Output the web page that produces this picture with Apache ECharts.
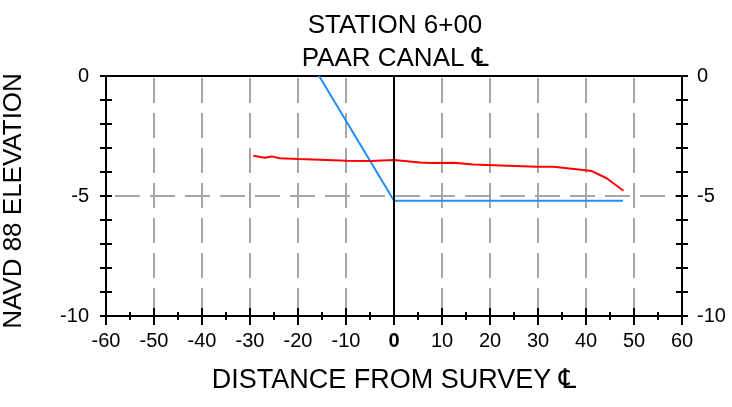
<!DOCTYPE html>
<html>
<head>
<meta charset="utf-8">
<script src="https://cdn.jsdelivr.net/npm/echarts@6/dist/echarts.min.js"></script>
<style>
html,body{margin:0;padding:0;background:#fff;}
#chart{width:732px;height:407px;}
</style>
</head>
<body>
<div id="chart"></div>
<script>
// ---- data ----
const titleLines = ['STATION 6+00', 'PAAR CANAL \u2104'];
const xAxisName = 'DISTANCE FROM SURVEY \u2104';
const yAxisName = 'NAVD 88 ELEVATION';
const xMin = -60, xMax = 60, xStep = 10;
const yMin = -10, yMax = 0, yStep = 5;

// existing ground (red)
const groundX = [-29.3, -26.9, -25.5, -23.8, -19.9, -15.4, -9.9, -5, 0, 5.4, 7.5, 12.4, 16.5, 29.7, 33.2, 39.4, 41.2, 44.3, 47.8];
const groundY = [-3.32, -3.41, -3.35, -3.43, -3.46, -3.49, -3.53, -3.54, -3.5, -3.6, -3.62, -3.61, -3.69, -3.78, -3.78, -3.92, -3.96, -4.26, -4.78];
// design section (blue)
const designX = [-15.6, 0, 47.7];
const designY = [0, -5.2, -5.2];

const FONT = '"Liberation Sans", Arial, "DejaVu Sans", sans-serif';
const pair = (xs, ys) => xs.map((x, i) => [x, ys[i]]);

const gridRect = { left: 106, right: 50, top: 76, bottom: 91, containLabel: false, outerBoundsMode: 'none' };
const axisLineStyle = { color: '#000', width: 2 };
const tickStyle = { color: '#000', width: 2 };
const dashStyle = { color: '#a6a6a6', width: 2, type: [25, 10] };

const baseX = { type: 'value', min: xMin, max: xMax, interval: xStep };
const baseY = { type: 'value', min: yMin, max: yMax, interval: yStep };

const option = {
  animation: false,
  backgroundColor: '#fff',
  title: {
    text: titleLines.join('\n'),
    left: 390,
    textAlign: 'center',
    top: 4,
    textStyle: { fontFamily: FONT, fontSize: 26, fontWeight: 'normal', color: '#000', lineHeight: 33 }
  },
  grid: [
    Object.assign({}, gridRect),
    Object.assign({}, gridRect),
    Object.assign({}, gridRect),
    Object.assign({}, gridRect)
  ],
  xAxis: [
    Object.assign({}, baseX, {
      gridIndex: 0, position: 'bottom',
      name: xAxisName, nameLocation: 'middle', nameGap: 51,
      nameTextStyle: { fontFamily: FONT, fontSize: 27, color: '#000' },
      axisLine: { show: true, onZero: false, lineStyle: axisLineStyle },
      axisTick: { show: true, inside: false, length: 9, lineStyle: tickStyle },
      minorTick: { show: true, splitNumber: 2, length: 4, lineStyle: tickStyle },
      axisLabel: {
        fontFamily: FONT, fontSize: 20, color: '#000', margin: 15,
        formatter: v => v === 0 ? '{b|0}' : String(v),
        rich: { b: { fontFamily: FONT, fontSize: 20, fontWeight: 'bold', color: '#000' } }
      },
      splitLine: { show: true, lineStyle: Object.assign({}, dashStyle, { dashOffset: 33 }) }
    }),
    Object.assign({}, baseX, {
      gridIndex: 1, position: 'bottom',
      axisLine: { show: false, onZero: false },
      axisTick: { show: true, inside: true, length: 8, lineStyle: tickStyle },
      minorTick: { show: true, splitNumber: 2, length: 4, lineStyle: tickStyle },
      axisLabel: { show: false },
      splitLine: { show: false }
    }),
    Object.assign({}, baseX, {
      gridIndex: 2, position: 'top',
      axisLine: { show: true, onZero: false, lineStyle: axisLineStyle },
      axisTick: { show: false },
      axisLabel: { show: false },
      splitLine: { show: false }
    }),
    Object.assign({}, baseX, { gridIndex: 3, show: false })
  ],
  yAxis: [
    Object.assign({}, baseY, {
      gridIndex: 0, position: 'left',
      name: yAxisName, nameLocation: 'middle', nameGap: 79, nameRotate: 90,
      nameTextStyle: { fontFamily: FONT, fontSize: 26, color: '#000', padding: [0, 10, 0, 0] },
      axisLine: { show: true, onZero: false, lineStyle: axisLineStyle },
      axisTick: { show: true, inside: false, length: 6, lineStyle: tickStyle },
      minorTick: { show: true, splitNumber: 5, length: 6, lineStyle: tickStyle },
      axisLabel: { fontFamily: FONT, fontSize: 20, color: '#000', margin: 17 },
      splitLine: { show: true, lineStyle: Object.assign({}, dashStyle, { dashOffset: 26 }) }
    }),
    Object.assign({}, baseY, {
      gridIndex: 1, position: 'left',
      axisLine: { show: false, onZero: false },
      axisTick: { show: true, inside: true, length: 6, lineStyle: tickStyle },
      minorTick: { show: true, splitNumber: 5, length: 6, lineStyle: tickStyle },
      axisLabel: { show: false },
      splitLine: { show: false }
    }),
    Object.assign({}, baseY, {
      gridIndex: 2, position: 'right',
      axisLine: { show: true, onZero: false, lineStyle: axisLineStyle },
      axisTick: { show: true, inside: false, length: 6, lineStyle: tickStyle },
      minorTick: { show: true, splitNumber: 5, length: 6, lineStyle: tickStyle },
      axisLabel: { fontFamily: FONT, fontSize: 20, color: '#000', margin: 15 },
      splitLine: { show: false }
    }),
    Object.assign({}, baseY, {
      gridIndex: 3, position: 'right',
      axisLine: { show: false, onZero: false },
      axisTick: { show: true, inside: true, length: 6, lineStyle: tickStyle },
      minorTick: { show: true, splitNumber: 5, length: 6, lineStyle: tickStyle },
      axisLabel: { show: false },
      splitLine: { show: false }
    })
  ],
  series: [
    {
      type: 'line', xAxisIndex: 0, yAxisIndex: 0,
      data: pair(designX, designY),
      showSymbol: false, symbol: 'none', silent: true,
      lineStyle: { color: '#1e8fff', width: 2 },
      itemStyle: { color: '#1e8fff' },
      z: 3
    },
    {
      type: 'line', xAxisIndex: 0, yAxisIndex: 0,
      data: pair(groundX, groundY),
      showSymbol: false, symbol: 'none', silent: true,
      lineStyle: { color: '#ff0000', width: 2 },
      itemStyle: { color: '#ff0000' },
      z: 4,
      markLine: {
        silent: true, symbol: 'none', label: { show: false },
        lineStyle: { color: '#000', width: 2, type: 'solid' },
        data: [{ xAxis: 0 }]
      }
    }
  ]
};

const chart = echarts.init(document.getElementById('chart'), null, { renderer: 'canvas' });
chart.setOption(option);
</script>
</body>
</html>
